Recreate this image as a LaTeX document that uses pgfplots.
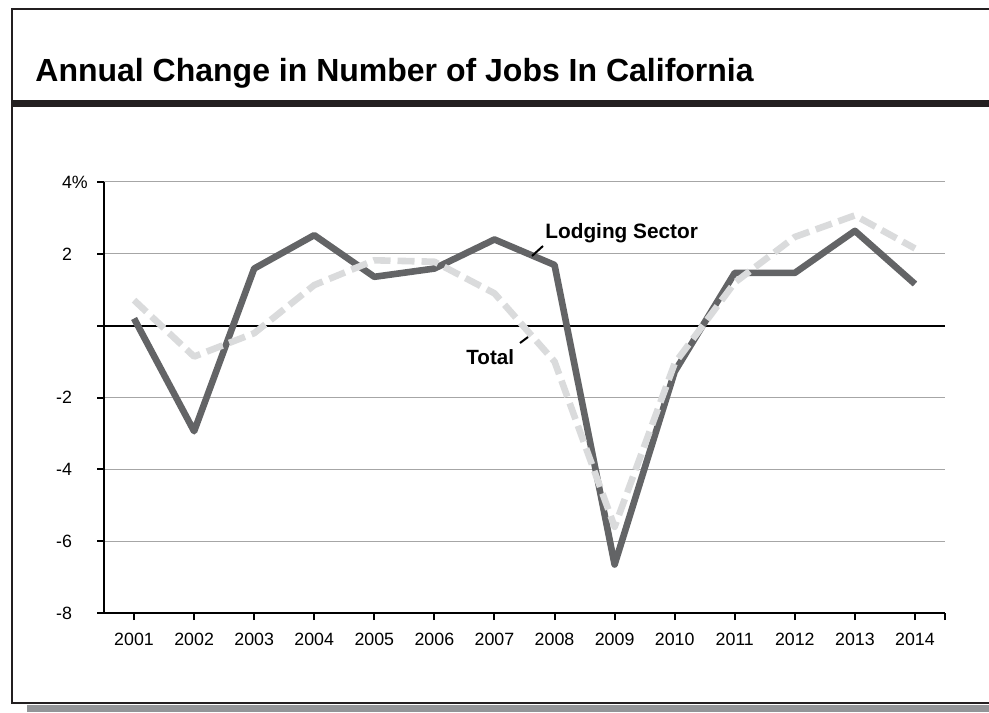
\documentclass[border=0pt]{standalone}
\usepackage{pgfplots}
\pgfplotsset{compat=1.18}
\usepackage{fontspec}
\setmainfont{Liberation Sans}
\definecolor{lodging}{RGB}{99,100,102}
\definecolor{totalc}{RGB}{218,219,220}
\definecolor{frame}{RGB}{35,31,32}
\definecolor{shadow}{RGB}{147,149,152}
\begin{document}
\begin{tikzpicture}
\begin{scope}[x=0.5pt,y=0.5pt]
\useasboundingbox (0,0) rectangle (989,712);
% frame
\fill[shadow] (27,0) rectangle (995,7);
\draw[frame, line width=1pt] (995,702.5) -- (12,702.5) -- (12,9) -- (995,9);
\fill[frame] (11,604.7) rectangle (995,612);
\node[anchor=base west, inner sep=0pt, font=\fontsize{16}{19}\selectfont\bfseries] at (35,630) {Annual Change in Number of Jobs In California};
\end{scope}
\begin{axis}[
  at={(52pt,49.5pt)}, anchor=south west,
  scale only axis, width=420.5pt, height=215.5pt,
  xmin=2000.5, xmax=2014.5, ymin=-8, ymax=4,
  axis lines*=left,
  axis line style={line width=1pt, black},
  tick align=outside, major tick length=3.5pt,
  tick style={line width=1pt, black},
  xtick={2001,2002,2003,2004,2005,2006,2007,2008,2009,2010,2011,2012,2013,2014},
  extra x ticks={2014.5}, extra x tick labels={}, extra x tick style={grid=none},
  ytick={-8,-6,-4,-2,0,2,4},
  yticklabels={-8,-6,-4,-2,,2,4\rlap{\%}},
  ymajorgrids,
  grid style={line width=0.5pt, gray!70},
  /pgf/number format/assume math mode=true,
  /pgf/number format/set thousands separator={},
  ticklabel style={font=\fontsize{8.9}{10}\selectfont},
  xticklabel style={yshift=-3pt},
  yticklabel style={anchor=east, xshift=-9pt},
  clip=false,
]
\draw[black, line width=1pt] (axis cs:2000.5,0) -- (axis cs:2014.5,0);
\addplot[lodging, line width=3.3pt, line join=round] coordinates {
 (2001,0.2) (2002,-2.94) (2003,1.59) (2004,2.52) (2005,1.36) (2006,1.59) (2007,2.4)
 (2008,1.69) (2009,-6.65) (2010,-1.28) (2011,1.47) (2012,1.47) (2013,2.64) (2014,1.16)};
\addplot[totalc, line width=3.3pt, line join=round, dash pattern=on 8.5pt off 3.5pt] coordinates {
 (2001,0.71) (2002,-0.86) (2003,-0.21) (2004,1.13) (2005,1.82) (2006,1.78) (2007,0.9)
 (2008,-1.0) (2009,-5.6) (2010,-1.05) (2011,1.2) (2012,2.47) (2013,3.07) (2014,2.15)};
\end{axis}
\begin{scope}[x=0.5pt,y=0.5pt]
\node[anchor=base west, inner sep=0pt, font=\fontsize{10.4}{12}\selectfont\bfseries] at (545,473) {Lodging Sector};
\draw[black, line width=1pt] (532,456) -- (543,466);
\node[anchor=base west, inner sep=0pt, font=\fontsize{10.3}{12}\selectfont\bfseries] at (466,347) {Total};
\draw[black, line width=1pt] (520,369) -- (528,375);
\end{scope}
\end{tikzpicture}
\end{document}
